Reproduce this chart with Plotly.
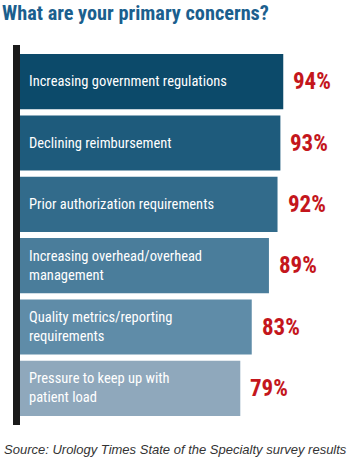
import plotly.graph_objects as go

categories = [
    "Increasing government regulations",
    "Declining reimbursement",
    "Prior authorization requirements",
    "Increasing overhead/overhead<br>management",
    "Quality metrics/reporting<br>requirements",
    "Pressure to keep up with<br>patient load",
]
values = [94, 93, 92, 89, 83, 79]
value_labels = ["94%", "93%", "92%", "89%", "83%", "79%"]
bar_colors = ["#0c4a6a", "#1e5b7c", "#326b8b", "#4a7d9b", "#5f8ca8", "#8fa8bc"]

NARROW = "Roboto Condensed, DejaVu Sans Condensed, sans-serif"

fig = go.Figure()
fig.add_trace(go.Bar(
    y=categories, x=values, orientation="h",
    marker=dict(color=bar_colors, line=dict(width=0)),
    hoverinfo="skip",
))

annotations = []
for cat, v, lab in zip(categories, values, value_labels):
    annotations.append(dict(
        x=0, y=cat, xref="x", yref="y", text=cat, showarrow=False,
        xanchor="left", yanchor="middle", xshift=13, align="left",
        font=dict(family=NARROW, size=14.5, color="white"),
    ))
    annotations.append(dict(
        x=v, y=cat, xref="x", yref="y", text=lab, showarrow=False,
        xanchor="left", yanchor="middle", xshift=8,
        font=dict(family=NARROW, size=23, color="#c4161c", weight="bold"),
    ))

annotations += [
    dict(
        x=-14 / 336, y=1 + 38 / 368, xref="paper", yref="paper",
        text="<b>What are your primary concerns?</b>", showarrow=False,
        xanchor="left", yanchor="middle",
        font=dict(family=NARROW, size=20.3, color="#1b5f8e"),
    ),
    dict(
        x=0.5 - 7 / 336, y=-30 / 368, xref="paper", yref="paper",
        text="<i>Source: Urology Times State of the Specialty survey results</i>",
        showarrow=False, xanchor="center", yanchor="middle",
        font=dict(family="Liberation Sans, Arial, sans-serif", size=13, color="#333333"),
    ),
]

fig.update_layout(
    width=350, height=472,
    margin=dict(l=14, r=0, t=51, b=53),
    paper_bgcolor="white", plot_bgcolor="white",
    bargap=0.1,
    showlegend=False,
    xaxis=dict(range=[0, 117.3], visible=False, fixedrange=True),
    yaxis=dict(autorange="reversed", visible=False, fixedrange=True),
    annotations=annotations,
    shapes=[dict(
        type="rect", xref="paper", yref="paper",
        x0=-1 / 336, x1=6 / 336, y0=-6 / 368, y1=1 + 6 / 368,
        fillcolor="#1a1a1a", line=dict(width=0), layer="above",
    )],
)

fig.write_html("out.html")
